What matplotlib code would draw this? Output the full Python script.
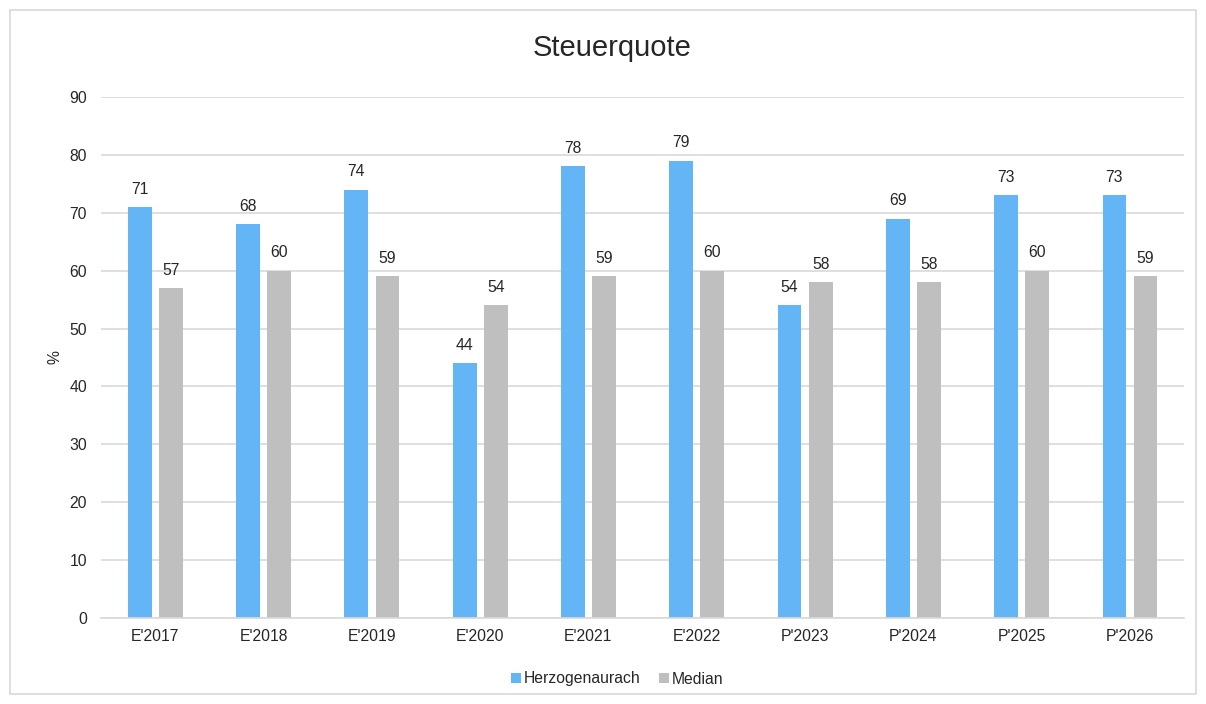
import matplotlib
matplotlib.use("Agg")
import matplotlib.pyplot as plt
import numpy as np
from matplotlib.patches import Rectangle

categories = ["E'2017", "E'2018", "E'2019", "E'2020", "E'2021", "E'2022",
              "P'2023", "P'2024", "P'2025", "P'2026"]
herzogenaurach = [71, 68, 74, 44, 78, 79, 54, 69, 73, 73]
median = [57, 60, 59, 54, 59, 60, 58, 58, 60, 59]
yticks = [0, 10, 20, 30, 40, 50, 60, 70, 80, 90]

plt.rcParams['font.family'] = ['Liberation Sans', 'DejaVu Sans']

fig = plt.figure(figsize=(12.06, 7.04), dpi=100)
fig.patches.append(Rectangle((10/1206, 10/704), 1186/1206, 684/704,
                             transform=fig.transFigure, fill=False,
                             edgecolor='#d9d9d9', linewidth=1.2, zorder=0))
ax = fig.add_axes([101/1206, 86/704, 1083/1206, 521/704])

x = np.arange(len(categories))
w = 0.22
blue = '#64B5F6'
grey = '#BFBFBF'
b1 = ax.bar(x - 0.142, herzogenaurach, w, color=blue, label='Herzogenaurach', zorder=2)
b2 = ax.bar(x + 0.145, median, w, color=grey, label='Median', zorder=2)

for bars, vals in ((b1, herzogenaurach), (b2, median)):
    for r, v in zip(bars, vals):
        ax.annotate(str(v), (r.get_x() + r.get_width()/2, v), xytext=(0, 7.5),
                    textcoords='offset points', ha='center', va='bottom',
                    fontsize=11.3, color='#262626')

ax.set_xlim(-0.5, len(categories) - 0.5)
ax.set_ylim(0, 90)
ax.set_yticks(yticks)
ax.set_xticks(x)
ax.set_xticklabels(categories)
ax.tick_params(axis='both', length=0, labelsize=11.3, labelcolor='#262626')
ax.tick_params(axis='y', pad=10)
ax.tick_params(axis='x', pad=8)
ax.grid(axis='y', color='#d9d9d9', linewidth=1.2, zorder=0)
ax.set_axisbelow(True)
for s in ['top', 'right', 'left']:
    ax.spines[s].set_visible(False)
ax.spines['bottom'].set_color('#d9d9d9')
ax.spines['bottom'].set_linewidth(1.2)

ax.set_ylabel('%', fontsize=11.3, color='#262626', labelpad=5)
fig.text(612/1206, 1 - 48/704, 'Steuerquote', ha='center', va='center',
         fontsize=21, color='#262626')

fig.legend(handles=[b1, b2], loc='center', bbox_to_anchor=(617/1206, 1 - 679/704),
           ncol=2, frameon=False, fontsize=11.3, handlelength=0.65, handleheight=0.65,
           handletextpad=0.15, columnspacing=1.2, labelcolor='#262626')

fig.savefig('out.png', dpi=100)
